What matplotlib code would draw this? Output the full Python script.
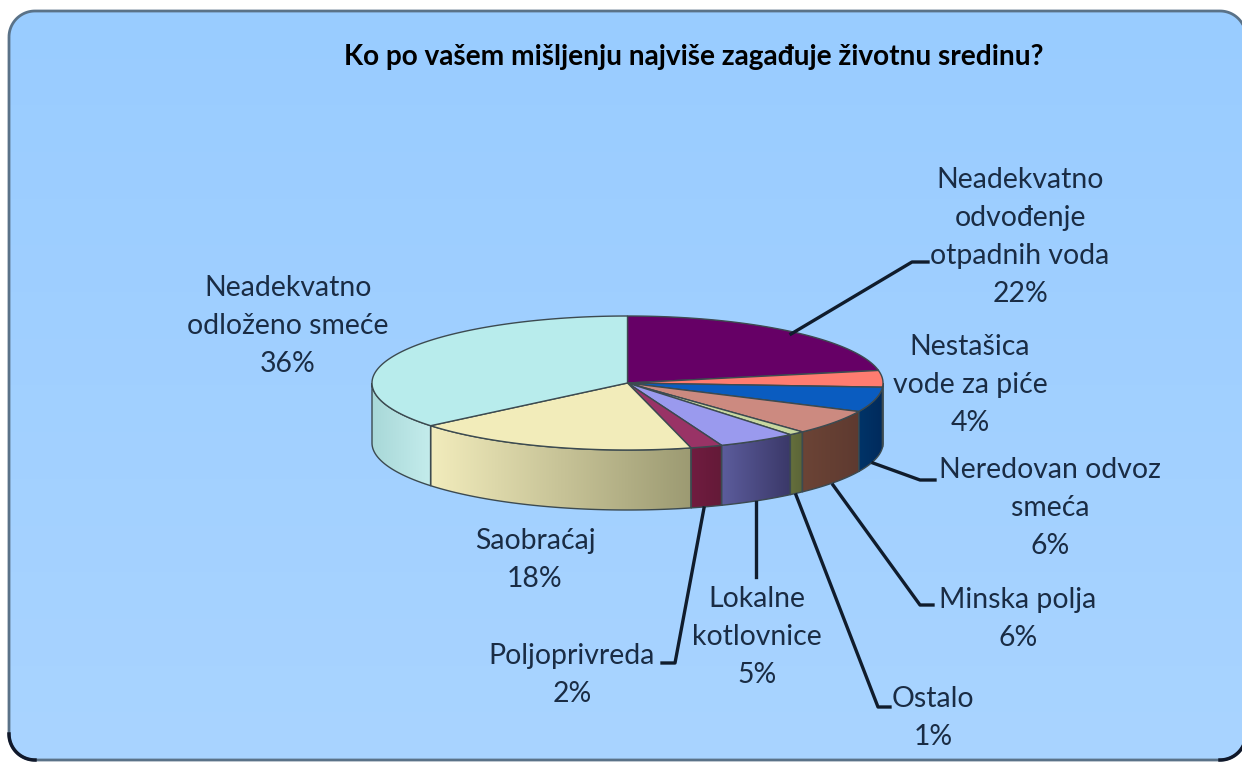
import numpy as np
import matplotlib
matplotlib.use("Agg")
import matplotlib.pyplot as plt
from matplotlib.colors import LinearSegmentedColormap
from matplotlib.patches import Polygon

title = "Ko po vašem mišljenju najviše zagađuje životnu sredinu?"

# clockwise from 12 o'clock
values = [22, 4, 6, 6, 1, 5, 2, 18, 36]
names = [
    "Neadekvatno\nodvođenje\notpadnih voda",
    "Nestašica\nvode za piće",
    "Neredovan odvoz\nsmeća",
    "Minska polja",
    "Ostalo",
    "Lokalne\nkotlovnice",
    "Poljoprivreda",
    "Saobraćaj",
    "Neadekvatno\nodloženo smeće",
]
top_colors = ["#660066", "#ff7c70", "#0a5cc0", "#cc8a80", "#c8d8a0",
              "#9a9aee", "#993366", "#f2ecba", "#b8ecec"]
side_left = ["#3c003c", "#a04a44", "#003468", "#6c4436", "#66703c",
             "#5c5c9c", "#701c40", "#f2ecbc", "#a8d8d8"]
side_right = ["#3c003c", "#a04a44", "#002a5c", "#5e3a30", "#5a6438",
              "#3a3868", "#641a38", "#9c9a72", "#c4ecec"]

# label centres in pixels
label_x = [1020, 970, 1050, 1018, 933, 757, 572, 535, 288]
label_y = [237, 385, 508, 619, 718, 637, 675, 560, 326]

# leader lines in pixels
leaders = [
    ([791, 912, 928], [334, 262, 262]),
    ([873, 920, 935], [463, 480, 480]),
    ([833, 920, 933], [485, 605, 605]),
    ([796, 878, 890], [495, 707, 707]),
    ([756, 756], [502, 577]),
    ([704, 675, 662], [508, 663, 663]),
]

cx, cy = 627.5, 383
rx, ry = 255.5, 67
depth = 60

# panel box in pixels, right edge runs off the image
left, top, right, bottom, radius = 9, 11, 1246, 760, 26

plt.rcParams["font.family"] = ["Lato", "DejaVu Sans"]

fig = plt.figure(figsize=(12.42, 7.62), dpi=100, facecolor="white")
ax = fig.add_axes([0, 0, 1, 1])
ax.set_xlim(0, 1242)
ax.set_ylim(762, 0)


def rim(a0, a1):
    t = np.radians(np.linspace(a0, a1, 120))
    return cx + rx * np.sin(t), cy - ry * np.cos(t)


def corner(x0, y0, t0, t1):
    t = np.radians(np.linspace(t0, t1, 30))
    return x0 + radius * np.cos(t), y0 + radius * np.sin(t)


def gradient(c0, c1, x0, x1, y0, y1, clip, vertical=False):
    cmap = LinearSegmentedColormap.from_list("g", [c0, c1])
    g = np.linspace(0, 1, 256).reshape(-1, 1) if vertical else np.linspace(0, 1, 256).reshape(1, -1)
    im = ax.imshow(g, cmap=cmap, extent=(x0, x1, y1, y0), aspect="auto", zorder=1)
    im.set_clip_path(clip)


# background panel, corners go round in screen order (y axis is flipped)
tl = corner(left + radius, top + radius, 180, 270)
tr = corner(right - radius, top + radius, 270, 360)
br = corner(right - radius, bottom - radius, 0, 90)
bl = corner(left + radius, bottom - radius, 90, 180)
outline = np.column_stack([np.r_[tl[0], tr[0], br[0], bl[0]], np.r_[tl[1], tr[1], br[1], bl[1]]])
panel = Polygon(outline, facecolor="none", edgecolor="none")
ax.add_patch(panel)
gradient("#99ccff", "#a9d4ff", left, right, top, bottom, panel, vertical=True)
ax.add_patch(Polygon(outline, facecolor="none", edgecolor="#5a7288", linewidth=2, zorder=2))

# dark shadow on the two lower corners
for xs, ys in [br, bl]:
    ax.plot(xs, ys, color="#10182a", linewidth=2.5, zorder=2)

angles = np.concatenate([[0], np.cumsum(values)]) * 360 / sum(values)

# side walls first, only the front half shows
for a0, a1, c0, c1 in zip(angles[:-1], angles[1:], side_left, side_right):
    lo, hi = max(a0, 90), min(a1, 270)
    if lo >= hi:
        continue
    x, y = rim(lo, hi)
    pts = np.column_stack([np.r_[x, x[::-1]], np.r_[y, y[::-1] + depth]])
    poly = Polygon(pts, facecolor="none", edgecolor="none")
    ax.add_patch(poly)
    gradient(c0, c1, x.min(), x.max(), y.min(), y.max() + depth, poly)
    ax.add_patch(Polygon(pts, facecolor="none", edgecolor="#3c4a50", linewidth=1, zorder=3))

# top face
for a0, a1, c in zip(angles[:-1], angles[1:], top_colors):
    x, y = rim(a0, a1)
    ax.fill(np.r_[cx, x], np.r_[cy, y], facecolor=c, edgecolor="#3c4a50", linewidth=1, zorder=4)

for xs, ys in leaders:
    ax.plot(xs, ys, color="#101c2c", linewidth=2.4, solid_joinstyle="round", zorder=5)

for name, v, x, y in zip(names, values, label_x, label_y):
    ax.text(x, y, f"{name}\n{v}%", ha="center", va="center", fontsize=20.4,
            color="#1a2c44", linespacing=1.57, zorder=6)

ax.text(694, 57, title, ha="center", va="center", fontsize=20.2, fontweight="bold",
        color="black", zorder=6)

ax.set_xlim(0, 1242)
ax.set_ylim(762, 0)
ax.axis("off")
fig.savefig("out.png", dpi=100)
